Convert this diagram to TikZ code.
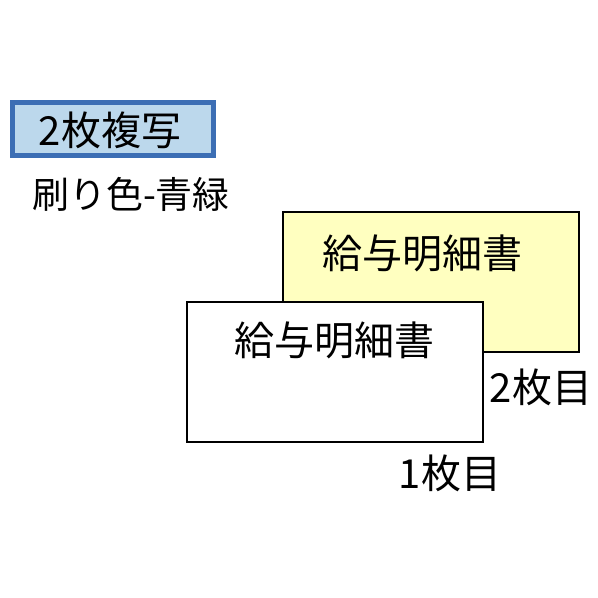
\documentclass[tikz,border=0pt]{standalone}
\usepackage{fontspec}
\newfontfamily\jpfont{Noto Sans CJK JP}
\usetikzlibrary{positioning}
\definecolor{badgeblue}{RGB}{60,110,180}
\definecolor{badgefill}{RGB}{188,216,236}
\definecolor{sheetyellow}{RGB}{255,255,192}
\tikzstyle{sheet}=[draw, line width=2pt, minimum width=296pt, minimum height=140pt]
\tikzstyle{label}=[font=\jpfont\fontsize{40}{40}\selectfont, inner sep=0pt]

\begin{document}
\begin{tikzpicture}[x=1pt, y=-1pt]
  \useasboundingbox (0,0) rectangle (598,598);
  \node[draw=badgeblue, fill=badgefill, line width=5pt, minimum width=201pt, minimum height=53pt] (badge) at (113,129) {};
  \node[label] (copies) at (110,130) {2枚複写};
  \node[label, font=\jpfont\fontsize{37}{37}\selectfont] (color) at (131,194) {刷り色-青緑};
  \node[sheet, fill=sheetyellow] (sheet2) at (430.5,282) {};
  \node[sheet, fill=white] (sheet1) at (335,372) {};
  \node[label] (title2) at (422,253) {給与明細書};
  \node[label] (title1) at (334,340) {給与明細書};
  \node[label] (second) at (541,387) {2枚目};
  \node[label] (first) at (450,473) {1枚目};
\end{tikzpicture}
\end{document}
